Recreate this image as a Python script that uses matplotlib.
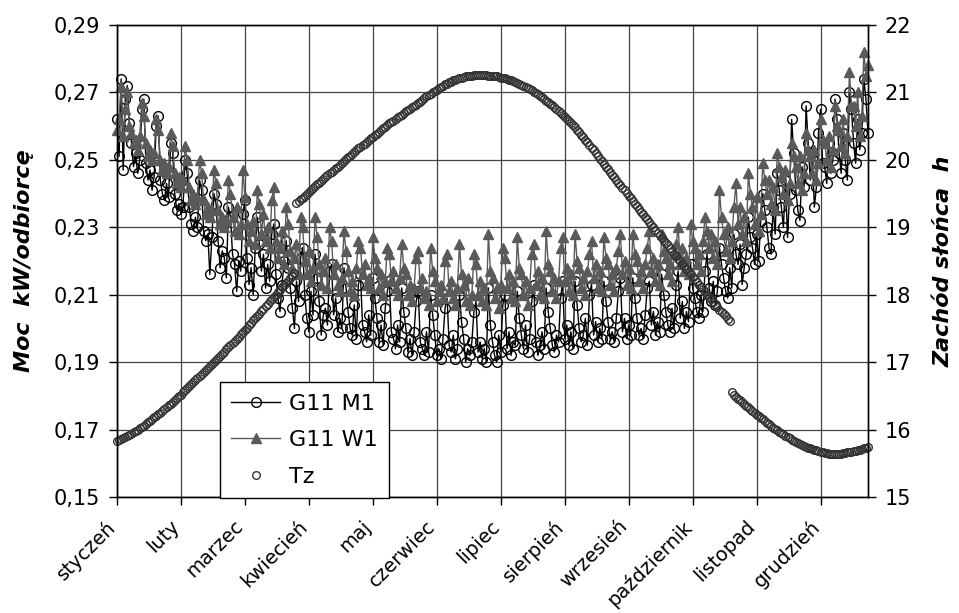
import matplotlib.pyplot as plt
import matplotlib.transforms as mtransforms
import numpy as np

months = ['styczeń', 'luty', 'marzec', 'kwiecień', 'maj', 'czerwiec', 'lipiec',
          'sierpień', 'wrzesień', 'październik', 'listopad', 'grudzień']
left_ticks = [0.15, 0.17, 0.19, 0.21, 0.23, 0.25, 0.27, 0.29]
right_ticks = [15, 16, 17, 18, 19, 20, 21, 22]

# G11 M1, daily power in thousandths of kW/odbiorcę (7 days per row)
m1 = [
    262, 251, 274, 247, 268, 272, 261,
    255, 248, 252, 246, 250, 265, 268,
    249, 244, 247, 241, 245, 260, 263,
    244, 240, 238, 243, 239, 255, 252,
    240, 235, 237, 234, 236, 250, 246,
    236, 231, 229, 233, 230, 244, 241,
    229, 226, 228, 216, 227, 240, 237,
    226, 218, 223, 221, 215, 236, 233,
    222, 219, 211, 220, 217, 234, 238,
    221, 213, 218, 210, 224, 233, 225,
    217, 222, 212, 219, 214, 228, 231,
    216, 209, 205, 213, 220, 226, 218,
    212, 206, 200, 214, 208, 221, 224,
    210, 203, 199, 211, 204, 222, 215,
    208, 198, 204, 206, 201, 217, 219,
    204, 209, 199, 203, 200, 218, 212,
    205, 200, 198, 207, 197, 213, 216,
    201, 199, 196, 204, 198, 215, 209,
    203, 196, 201, 195, 206, 211, 214,
    199, 197, 194, 201, 196, 212, 205,
    200, 193, 197, 192, 199, 208, 211,
    196, 194, 192, 199, 193, 210, 204,
    198, 192, 194, 191, 197, 206, 209,
    195, 193, 198, 191, 194, 210, 202,
    197, 190, 194, 192, 196, 205, 208,
    193, 196, 191, 194, 190, 212, 201,
    196, 192, 190, 198, 193, 207, 210,
    194, 199, 192, 196, 195, 211, 203,
    198, 194, 201, 193, 197, 208, 213,
    196, 192, 195, 199, 194, 212, 205,
    200, 195, 193, 198, 196, 209, 214,
    197, 201, 195, 199, 194, 214, 207,
    200, 196, 198, 203, 195, 210, 213,
    198, 202, 196, 200, 197, 214, 208,
    202, 197, 199, 196, 203, 211, 215,
    199, 203, 197, 201, 198, 215, 209,
    203, 198, 200, 197, 204, 212, 214,
    201, 205, 198, 202, 199, 216, 210,
    205, 201, 199, 206, 200, 213, 217,
    203, 208, 200, 205, 202, 219, 212,
    209, 205, 203, 210, 205, 217, 222,
    212, 208, 214, 207, 211, 224, 219,
    215, 211, 209, 218, 212, 228, 222,
    219, 225, 213, 218, 222, 233, 227,
    224, 219, 228, 220, 232, 240, 235,
    230, 224, 222, 236, 228, 246, 241,
    236, 230, 244, 227, 240, 262, 252,
    241, 235, 232, 248, 242, 266, 255,
    244, 252, 236, 242, 258, 265, 249,
    248, 243, 255, 246, 250, 268, 262,
    252, 246, 258, 250, 244, 270, 265,
    255, 249, 262, 253, 258, 274, 268,
    258,
]

# G11 W1
w1 = [
    259, 262, 272, 257, 265, 270, 260,
    258, 255, 256, 253, 257, 267, 263,
    255, 251, 253, 250, 252, 262, 259,
    250, 247, 249, 246, 248, 258, 254,
    246, 243, 245, 242, 244, 254, 250,
    242, 238, 240, 237, 239, 250, 246,
    238, 234, 236, 233, 235, 247, 243,
    235, 231, 233, 230, 232, 244, 240,
    233, 229, 236, 228, 231, 247, 239,
    231, 226, 229, 232, 225, 241, 237,
    228, 234, 226, 230, 224, 238, 242,
    226, 221, 224, 229, 219, 236, 231,
    223, 218, 221, 225, 216, 233, 230,
    220, 216, 223, 214, 218, 233, 227,
    219, 213, 217, 221, 212, 230, 226,
    216, 219, 213, 211, 215, 229, 223,
    217, 211, 214, 210, 218, 226, 224,
    216, 219, 213, 215, 212, 227, 221,
    218, 212, 216, 210, 214, 224, 222,
    214, 217, 212, 210, 215, 225, 218,
    216, 210, 213, 208, 212, 221, 223,
    212, 215, 209, 211, 207, 224, 217,
    214, 208, 211, 213, 209, 220, 222,
    211, 214, 209, 207, 212, 225, 216,
    213, 208, 215, 207, 210, 222, 219,
    210, 214, 208, 212, 207, 228, 217,
    215, 209, 212, 206, 213, 224, 221,
    212, 216, 209, 214, 208, 227, 218,
    216, 210, 214, 207, 212, 222, 225,
    213, 217, 210, 215, 209, 229, 219,
    217, 211, 215, 209, 214, 224, 227,
    214, 218, 211, 216, 210, 228, 220,
    218, 212, 215, 210, 217, 222, 226,
    215, 219, 212, 217, 211, 227, 221,
    219, 213, 216, 211, 218, 223, 228,
    216, 220, 213, 218, 212, 228, 222,
    220, 214, 217, 212, 219, 224, 229,
    217, 221, 214, 219, 213, 228, 223,
    221, 216, 219, 214, 222, 225, 230,
    219, 224, 217, 221, 216, 231, 226,
    224, 219, 222, 217, 226, 233, 229,
    224, 228, 221, 226, 219, 241, 233,
    228, 223, 230, 221, 226, 236, 243,
    231, 236, 228, 233, 226, 246, 240,
    236, 231, 239, 229, 234, 249, 244,
    240, 244, 237, 242, 235, 252, 248,
    245, 240, 247, 238, 243, 255, 251,
    248, 243, 251, 241, 246, 258, 253,
    251, 246, 253, 244, 249, 262, 256,
    255, 250, 257, 248, 253, 266, 260,
    259, 254, 262, 252, 257, 276, 266,
    266, 260, 270, 257, 263, 282, 275,
    278,
]

# Tz - sunset time, hours
tz = [
    15.83, 15.84, 15.86, 15.87, 15.89, 15.91, 15.92, 15.94, 15.96, 15.98,
    16.00, 16.02, 16.04, 16.06, 16.08, 16.11, 16.13, 16.15, 16.18, 16.20,
    16.23, 16.25, 16.28, 16.30, 16.33, 16.36, 16.38, 16.41, 16.44, 16.47,
    16.50, 16.52, 16.55, 16.58, 16.61, 16.64, 16.67, 16.70, 16.73, 16.76,
    16.79, 16.82, 16.85, 16.88, 16.91, 16.94, 16.97, 17.00, 17.03, 17.06,
    17.09, 17.12, 17.15, 17.19, 17.22, 17.25, 17.28, 17.31, 17.34, 17.37,
    17.41, 17.44, 17.48, 17.51, 17.55, 17.58, 17.62, 17.65, 17.69, 17.72,
    17.76, 17.79, 17.83, 17.86, 17.90, 17.93, 17.97, 18.00, 18.04, 18.07,
    18.11, 18.14, 18.18, 18.21, 18.25, 18.28, 18.32,
    19.36,
    19.39, 19.42, 19.44, 19.47, 19.50, 19.53, 19.55, 19.58, 19.61, 19.64,
    19.66, 19.69, 19.72, 19.74, 19.77, 19.80, 19.82, 19.85, 19.88, 19.90,
    19.93, 19.96, 19.98, 20.01, 20.04, 20.06, 20.09, 20.11, 20.14, 20.17,
    20.19, 20.22, 20.24, 20.27, 20.29, 20.32, 20.34, 20.37, 20.39, 20.42,
    20.44, 20.47, 20.49, 20.51, 20.54, 20.56, 20.58, 20.61, 20.63, 20.65,
    20.67, 20.70, 20.72, 20.74, 20.76, 20.78, 20.80, 20.82, 20.84, 20.86,
    20.89, 20.91, 20.94, 20.96, 20.98, 21.00, 21.02, 21.04, 21.06, 21.08,
    21.10, 21.12, 21.13, 21.15, 21.16, 21.18, 21.19, 21.20, 21.21, 21.22,
    21.23, 21.24, 21.24, 21.25, 21.25, 21.26, 21.26, 21.26, 21.26,
    21.26, 21.26, 21.26, 21.25, 21.25, 21.25, 21.24, 21.24, 21.23, 21.22,
    21.22, 21.21, 21.20, 21.19, 21.18, 21.17, 21.15, 21.14, 21.13, 21.11,
    21.10, 21.08, 21.06, 21.05, 21.03, 21.01, 20.99, 20.97, 20.95, 20.93,
    20.90, 20.88, 20.86, 20.83, 20.81, 20.78, 20.75, 20.73, 20.70, 20.67,
    20.64, 20.61, 20.58, 20.54, 20.51, 20.48, 20.44, 20.41, 20.37, 20.34,
    20.30, 20.26, 20.22, 20.18,
    20.14, 20.10, 20.06, 20.02, 19.98, 19.94, 19.90, 19.86, 19.82, 19.78,
    19.74, 19.70, 19.66, 19.62, 19.58, 19.55, 19.51, 19.47, 19.43, 19.39,
    19.35, 19.31, 19.27, 19.23, 19.19, 19.15, 19.12, 19.08, 19.04, 19.00,
    18.96, 18.92, 18.88, 18.84, 18.80, 18.77, 18.73, 18.69, 18.65, 18.61,
    18.57, 18.53, 18.50, 18.46, 18.42, 18.38, 18.34, 18.30, 18.27, 18.23,
    18.19, 18.15, 18.12, 18.08, 18.04, 18.00, 17.97, 17.93, 17.89, 17.86,
    17.82, 17.78, 17.75, 17.71, 17.68, 17.64, 17.61,
    16.55, 16.52, 16.49, 16.46, 16.44, 16.41, 16.38, 16.35, 16.33, 16.30,
    16.27, 16.25, 16.22, 16.20, 16.17, 16.15, 16.12, 16.10, 16.08, 16.05,
    16.03, 16.01, 15.99, 15.97, 15.95, 15.93, 15.91, 15.89, 15.87, 15.85,
    15.83, 15.82, 15.80, 15.79, 15.77, 15.76, 15.74, 15.73, 15.72, 15.71,
    15.70, 15.69, 15.68, 15.67, 15.66, 15.65, 15.65, 15.64, 15.64, 15.64,
    15.64, 15.64, 15.64, 15.64, 15.65, 15.65, 15.66, 15.66, 15.67, 15.68,
    15.68, 15.69, 15.70, 15.71, 15.72, 15.73, 15.74,
]

assert len(m1) == len(w1) == len(tz) == 365, (len(m1), len(w1), len(tz))

plt.rcParams['font.family'] = 'DejaVu Sans'
plt.rcParams['font.size'] = 15

W, H = 959, 613
fig = plt.figure(figsize=(W / 100, H / 100), dpi=100)
ax = fig.add_axes([117 / W, 1 - 497 / H, (868 - 117) / W, (497 - 25) / H])
days = np.arange(len(tz))

l1, = ax.plot(days, np.array(m1) / 1000, color='black', lw=1, marker='o', ms=7,
              mfc='none', mec='black', mew=1, label='G11 M1', clip_on=False, zorder=3)
l2, = ax.plot(days, np.array(w1) / 1000, color='#5a5a5a', lw=1, marker='^', ms=7.5,
              mfc='#5a5a5a', mec='#5a5a5a', label='G11 W1', clip_on=False, zorder=4)

ax.set_xlim(0, 364)
ax.set_ylim(0.15, 0.29)
ax.set_yticks(left_ticks)
ax.set_yticklabels([f'{v:.2f}'.replace('.', ',') for v in left_ticks])
ax.set_xticks(range(0, 365, 31))
ax.set_xticklabels(months, rotation=45, ha='right', va='top', rotation_mode='anchor',
                   fontsize=14)
ax.tick_params(axis='x', direction='out', length=6, width=1, pad=6)
shift = mtransforms.ScaledTranslation(-11 / 100, -3 / 100, fig.dpi_scale_trans)
for lab in ax.get_xticklabels():
    lab.set_transform(lab.get_transform() + shift)
ax.tick_params(axis='y', direction='out', length=6, width=1, pad=6)
ax.grid(True, color='#444444', lw=0.9)
ax.set_axisbelow(True)
for s in ax.spines.values():
    s.set_linewidth(1)
    s.set_color('black')
ax.set_ylabel('Moc  kW/odbiorcę', fontweight='bold', fontstyle='italic', fontsize=16, labelpad=14)

ax2 = ax.twinx()
l3, = ax2.plot(days, tz, ls='none', marker='o', ms=5.5, mfc='none', mec='#333333',
               mew=1, label='Tz', clip_on=False)
ax2.set_ylim(15, 22)
ax2.set_yticks(right_ticks)
ax2.tick_params(axis='y', direction='out', length=6, width=1, pad=6)
ax2.set_ylabel('Zachód słońca  h', fontweight='bold', fontstyle='italic', fontsize=16, labelpad=16)
for s in ax2.spines.values():
    s.set_linewidth(1)
    s.set_color('black')

leg = ax2.legend(handles=[l1, l2, l3], loc='lower left',
                 bbox_to_anchor=(220 / W, 1 - 498 / H), bbox_transform=fig.transFigure,
                 borderaxespad=0, frameon=True, fancybox=False, framealpha=1,
                 edgecolor='black', fontsize=16, handlelength=2.2, labelspacing=0.75,
                 borderpad=0.5, handletextpad=0.4)
leg.get_frame().set_linewidth(1)

fig.savefig('out.png', dpi=100)
